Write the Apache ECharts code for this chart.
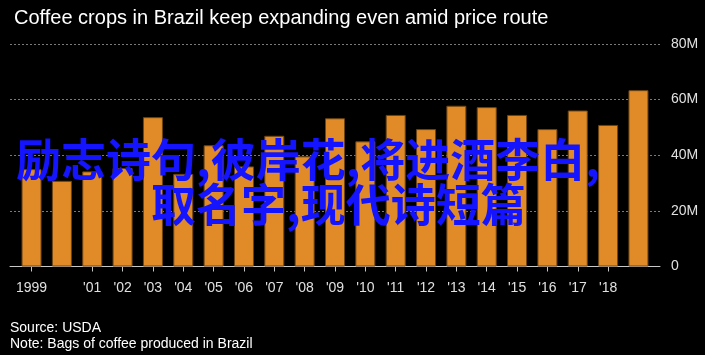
<!DOCTYPE html>
<html>
<head>
<meta charset="utf-8">
<script src="https://cdn.jsdelivr.net/npm/echarts@6/dist/echarts.min.js"></script>
<style>
html,body{margin:0;padding:0;background:#000;}
#chart{width:705px;height:355px;}
</style>
</head>
<body>
<div id="chart"></div>
<script>
// Data
var years = [1999,2000,2001,2002,2003,2004,2005,2006,2007,2008,2009,2010,2011,2012,2013,2014,2015,2016,2017,2018,2019];
var bags = [35.0,30.8,34.2,35.4,53.7,33.3,43.6,36.0,47.0,39.6,53.3,45.0,54.5,49.4,57.8,57.3,54.5,49.4,56.1,50.9,63.4]; // million bags
var xTickLabels = ['1999','',"'01","'02","'03","'04","'05","'06","'07","'08","'09","'10","'11","'12","'13","'14","'15","'16","'17","'18",''];
var yTicks = [0,20,40,60,80];
var titleText = 'Coffee crops in Brazil keep expanding even amid price route';
var footerLines = ['Source: USDA','Note: Bags of coffee produced in Brazil'];
var overlayLines = ['励志诗句,彼岸花,将进酒李白,','取名字,现代诗短篇'];

var narrow = "'Liberation Sans Narrow','Arial Narrow','Liberation Sans',sans-serif";
var reg = "'Liberation Sans',Arial,sans-serif";

var labelIdx = [];
xTickLabels.forEach(function(l,i){ if(l) labelIdx.push(i); });

var chart = echarts.init(document.getElementById('chart'));
chart.setOption({
  backgroundColor:'#000',
  animation:false,
  title:{
    text:titleText, left:9, top:3,
    textStyle:{color:'#fff', fontSize:20, fontWeight:'normal', fontFamily:narrow}
  },
  grid:{left:10, right:45, top:44, bottom:88.5},
  xAxis:{
    type:'value', min:-0.71, max:20.71,
    splitLine:{show:false},
    axisLine:{show:true, onZero:false, lineStyle:{color:'#c8c8c8', width:1}},
    axisTick:{show:true, length:5, customValues:labelIdx, lineStyle:{color:'#c8c8c8'}},
    axisLabel:{
      customValues:labelIdx, color:'#e0e0e0', fontSize:14, fontFamily:narrow, margin:15,
      formatter:function(v){ return xTickLabels[Math.round(v)] || ''; }
    }
  },
  yAxis:{
    type:'value', position:'right', min:0, max:80, interval:20,
    axisLine:{show:false}, axisTick:{show:false},
    axisLabel:{color:'#e0e0e0', fontSize:14, fontFamily:narrow, margin:11,
      formatter:function(v){ return v===0 ? '0' : v+'M'; }},
    splitLine:{show:true, lineStyle:{color:'#7a7a7a', type:[2,2], width:1}}
  },
  series:[{
    type:'bar',
    barWidth:20,
    data: bags.map(function(v,i){ return [i, v]; }),
    itemStyle:{color:'#e08b27', borderColor:'#6e4512', borderWidth:1}
  }],
  graphic:[
    {type:'text', left:10, top:321, style:{text:footerLines[0], fill:'#fff', font:'14px '+reg}},
    {type:'text', left:10, top:337, style:{text:footerLines[1], fill:'#fff', font:'14px '+reg}},
    {type:'text', z:100, style:{x:16, y:160, text:overlayLines[0], fill:'#1414ff', font:"bold 45px 'Noto Sans CJK SC'", textAlign:'left', textVerticalAlign:'middle'}},
    {type:'text', z:100, style:{x:151, y:205, text:overlayLines[1], fill:'#1414ff', font:"bold 45px 'Noto Sans CJK SC'", textAlign:'left', textVerticalAlign:'middle'}}
  ]
});
</script>
</body>
</html>
